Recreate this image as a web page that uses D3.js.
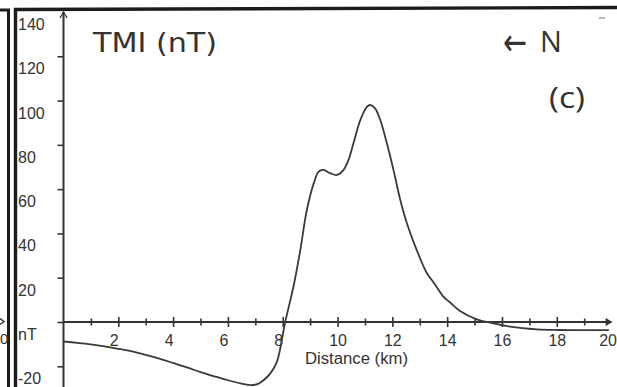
<!DOCTYPE html>
<html>
<head>
<meta charset="utf-8">
<script src="https://cdn.jsdelivr.net/npm/d3@7"></script>
<style>
  html, body { margin: 0; padding: 0; background: #fff; overflow: hidden; }
  svg { display: block; }
</style>
</head>
<body>
<svg id="chart" width="617" height="387"></svg>
<script>
// Total magnetic intensity (TMI) anomaly along the profile, panel (c)
const distanceKm = [0, 0.5, 1, 1.5, 2, 2.5, 3, 3.5, 4, 4.5, 5, 5.5, 6, 6.5, 6.85, 7.1, 7.3, 7.55, 7.79,
  8.09, 8.4, 8.64, 8.88, 9.13, 9.31, 9.49, 9.73, 9.98, 10.22, 10.4, 10.58, 10.83, 11.07, 11.19, 11.37,
  11.56, 11.8, 12.04, 12.29, 12.53, 12.89, 13.26, 13.5, 13.86, 14.11, 14.47, 15.08, 15.69, 16.3, 17.27,
  18.12, 19.0, 19.9];
const tmiNT = [-8.8, -9.4, -10.1, -11.0, -12.1, -13.3, -14.8, -16.5, -18.5, -20.5, -22.6, -24.5, -26.3, -27.8, -28.5, -27.9, -26.3, -23.2, -17.9,
  0, 16.5, 32.5, 50.6, 62.6, 67.9, 68.7, 67.2, 66.4, 68.7, 73.2, 80.7, 91.2, 97.2, 98.0, 96.5,
  91.2, 80.7, 68.7, 55.1, 44.6, 32.5, 22.0, 18.0, 11.5, 8.8, 5.0, 1.2, -0.6, -2.1, -3.3,
  -3.6, -3.7, -3.7];

// Axis ticks and their labels
const xTicks = [1, 2, 3, 4, 5, 6, 7, 8, 9, 10, 11, 12, 13, 14, 15, 16, 17, 18, 19, 20];
const xTickLabels = ["", "2", "", "4", "", "6", "", "8", "", "10", "", "12", "", "14", "", "16", "", "18", "", "20"];
const yTicks = [-20, 0, 20, 40, 60, 80, 100, 120, 140];
const yTickLabels = ["-20", "nT", "20", "40", "60", "80", "100", "120", "140"];

const svg = d3.select("#chart");
const ink = "#333";
const labelFont = "'Liberation Sans', Arial, sans-serif";

const x = d3.scaleLinear().domain([0, 20]).range([63.5, 611.6]);
const y = d3.scaleLinear().domain([-20, 140]).range([366.3, 12]);

// Panel frame: neighbouring panel edge on the far left, then this panel's border
svg.append("path")
  .attr("d", "M0,10 L8.5,10 L8.5,387")
  .attr("fill", "none").attr("stroke", "#1c1c1c").attr("stroke-width", 3);
svg.append("path")
  .attr("d", "M15.5,387 L15.5,9.5 L617,7.5")
  .attr("fill", "none").attr("stroke", "#1c1c1c").attr("stroke-width", 3.4);
// edge of the neighbouring panel's last tick label and axis arrow
svg.append("text")
  .attr("x", 0).attr("y", 344)
  .attr("font-family", labelFont).attr("font-size", 15).attr("fill", ink)
  .text("0");
svg.append("path")
  .attr("d", "M0,318.5 L4,321.5 L0,324.5")
  .attr("fill", "none").attr("stroke", ink).attr("stroke-width", 1.4);
// small mark in the top-right corner
svg.append("line")
  .attr("x1", 599).attr("x2", 605).attr("y1", 18).attr("y2", 18)
  .attr("stroke", "#888").attr("stroke-width", 1.2);

// Y axis
const gy = svg.append("g")
  .attr("transform", `translate(${x(0)},0)`)
  .call(d3.axisLeft(y).tickValues(yTicks).tickSize(6).tickFormat((d, i) => yTickLabels[i]));
gy.select(".domain").remove();
gy.selectAll(".tick line")
  .attr("stroke", ink).attr("stroke-width", 1.6)
  .filter(d => d === 140).remove();
gy.selectAll(".tick text")
  .attr("text-anchor", "start")
  .attr("x", 18 - x(0))
  .attr("y", 17.5)
  .attr("dy", null)
  .attr("font-family", labelFont).attr("font-size", 16).attr("fill", ink);
svg.append("line")
  .attr("x1", x(0)).attr("x2", x(0)).attr("y1", y(140)).attr("y2", 387)
  .attr("stroke", ink).attr("stroke-width", 2);
svg.append("path")
  .attr("d", `M${x(0) - 3.5},${y(140) + 6} L${x(0)},${y(140)} L${x(0) + 3.5},${y(140) + 6}`)
  .attr("fill", "none").attr("stroke", ink).attr("stroke-width", 1.3);

// X axis along the zero line
const gx = svg.append("g")
  .attr("transform", `translate(0,${y(0)})`)
  .call(d3.axisBottom(x).tickValues(xTicks).tickSize(0).tickFormat((d, i) => xTickLabels[i]));
gx.select(".domain").remove();
gx.selectAll(".tick line")
  .attr("y1", d => d % 2 === 0 ? -5 : -3.5)
  .attr("y2", d => d % 2 === 0 ? 5 : 3.5)
  .attr("stroke", ink).attr("stroke-width", 1.6)
  .filter(d => d === 20).remove();
gx.selectAll(".tick text")
  .attr("y", 24).attr("dy", null)
  .attr("dx", d => d < 10 ? -4.5 : (d === 20 ? -4 : 0))
  .attr("font-family", labelFont).attr("font-size", 16).attr("fill", ink);
svg.append("line")
  .attr("x1", x(0)).attr("x2", x(20) - 2).attr("y1", y(0)).attr("y2", y(0))
  .attr("stroke", ink).attr("stroke-width", 2);
svg.append("path")
  .attr("d", `M${x(20) - 6},${y(0) - 4} L${x(20) + 1},${y(0)} L${x(20) - 6},${y(0) + 4} Z`)
  .attr("fill", ink);
svg.append("text")
  .attr("x", 305).attr("y", 364)
  .attr("textLength", 103).attr("lengthAdjust", "spacingAndGlyphs")
  .attr("font-family", labelFont).attr("font-size", 16).attr("fill", ink)
  .text("Distance (km)");

// TMI profile
const line = d3.line()
  .x((d, i) => x(distanceKm[i]))
  .y(d => y(d))
  .curve(d3.curveCatmullRom.alpha(0.5));
svg.append("path")
  .datum(tmiNT)
  .attr("d", line)
  .attr("fill", "none")
  .attr("stroke", "#3a3a3a")
  .attr("stroke-width", 1.8)
  .attr("stroke-linejoin", "round");

// Panel annotations
svg.append("text")
  .attr("x", 93).attr("y", 52)
  .attr("textLength", 124).attr("lengthAdjust", "spacingAndGlyphs")
  .attr("font-family", "'DejaVu Sans', Verdana, sans-serif").attr("font-size", 26).attr("fill", "#333")
  .text("TMI (nT)");
svg.append("text")
  .attr("x", 503).attr("y", 55)
  .attr("textLength", 24).attr("lengthAdjust", "spacingAndGlyphs")
  .attr("font-family", "'DejaVu Sans', sans-serif").attr("font-size", 38)
  .attr("fill", "#333")
  .text("←");
svg.append("text")
  .attr("x", 540).attr("y", 52)
  .attr("font-family", "'Open Sans', sans-serif").attr("font-size", 29).attr("fill", "#333")
  .text("N");
svg.append("text")
  .attr("x", 549).attr("y", 108)
  .attr("textLength", 36).attr("lengthAdjust", "spacingAndGlyphs")
  .attr("font-family", "'Open Sans', sans-serif").attr("font-size", 29).attr("fill", "#333")
  .text("(c)");
</script>
</body>
</html>
